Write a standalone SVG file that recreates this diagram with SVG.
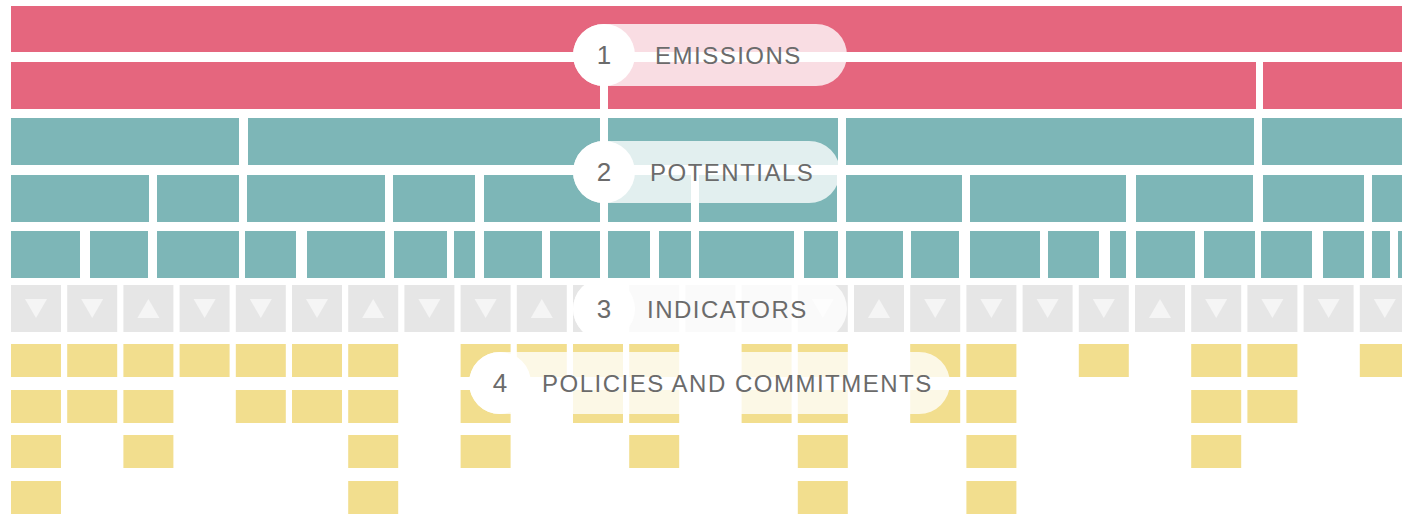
<svg xmlns="http://www.w3.org/2000/svg" xmlns:xlink="http://www.w3.org/1999/xlink" width="1402" height="514" viewBox="0 0 1402 514">
<style>
.em{fill:#E5667E}
.po{fill:#7DB6B7}
.ind{fill:#E6E6E6}
.tri{fill:#F5F5F5}
.pol{fill:#F2DE8E}
.pill{fill:#FFFFFF;fill-opacity:0.78}
.dot{fill:#FFFFFF}
.lbl{font-family:"Liberation Sans",Arial,sans-serif;font-size:24px;fill:#6B6B6B;letter-spacing:1.5px}
.num{font-family:"Liberation Sans",Arial,sans-serif;font-size:26px;fill:#6B6B6B;text-anchor:middle}
.link{stroke:#FFFFFF;stroke-width:8;fill:none}
</style>
<defs>
<path id="dn" class="tri" d="M-11,-9 L11,-9 L0,10 Z"/>
<path id="up" class="tri" d="M-11,10 L11,10 L0,-9 Z"/>
</defs>
<rect width="1402" height="514" fill="#FFFFFF"/>

<g id="emissions">
<rect class="em" x="11" y="6" width="1400" height="46"/>
<rect class="em" x="11" y="62" width="1245" height="47"/>
<rect class="em" x="1263" y="62" width="148" height="47"/>
</g>

<g id="potentials">
<rect class="po" x="11" y="118" width="228" height="47"/>
<rect class="po" x="248" y="118" width="590" height="47"/>
<rect class="po" x="846" y="118" width="408" height="47"/>
<rect class="po" x="1262" y="118" width="150" height="47"/>

<rect class="po" x="11" y="175" width="138" height="47"/>
<rect class="po" x="157" y="175" width="82" height="47"/>
<rect class="po" x="247" y="175" width="138" height="47"/>
<rect class="po" x="393" y="175" width="82" height="47"/>
<rect class="po" x="484" y="175" width="207" height="47"/>
<rect class="po" x="699" y="175" width="138" height="47"/>
<rect class="po" x="846" y="175" width="116" height="47"/>
<rect class="po" x="970" y="175" width="156" height="47"/>
<rect class="po" x="1136" y="175" width="117" height="47"/>
<rect class="po" x="1263" y="175" width="101" height="47"/>
<rect class="po" x="1372" y="175" width="40" height="47"/>

<rect class="po" x="11" y="231" width="69" height="47"/>
<rect class="po" x="90" y="231" width="58" height="47"/>
<rect class="po" x="157" y="231" width="82" height="47"/>
<rect class="po" x="245" y="231" width="51" height="47"/>
<rect class="po" x="307" y="231" width="78" height="47"/>
<rect class="po" x="394" y="231" width="53" height="47"/>
<rect class="po" x="454" y="231" width="21" height="47"/>
<rect class="po" x="484" y="231" width="58" height="47"/>
<rect class="po" x="550" y="231" width="100" height="47"/>
<rect class="po" x="659" y="231" width="32" height="47"/>
<rect class="po" x="699" y="231" width="95" height="47"/>
<rect class="po" x="804" y="231" width="34" height="47"/>
<rect class="po" x="846" y="231" width="57" height="47"/>
<rect class="po" x="911" y="231" width="48" height="47"/>
<rect class="po" x="970" y="231" width="70" height="47"/>
<rect class="po" x="1048" y="231" width="51" height="47"/>
<rect class="po" x="1110" y="231" width="16" height="47"/>
<rect class="po" x="1136" y="231" width="59" height="47"/>
<rect class="po" x="1204" y="231" width="51" height="47"/>
<rect class="po" x="1261" y="231" width="51" height="47"/>
<rect class="po" x="1323" y="231" width="41" height="47"/>
<rect class="po" x="1372" y="231" width="18" height="47"/>
<rect class="po" x="1398" y="231" width="14" height="47"/>
</g>

<g id="indicators">
<rect class="ind" x="11" y="285" width="50" height="47"/><use xlink:href="#dn" x="36" y="308"/>
<rect class="ind" x="67.2" y="285" width="50" height="47"/><use xlink:href="#dn" x="92.2" y="308"/>
<rect class="ind" x="123.4" y="285" width="50" height="47"/><use xlink:href="#up" x="148.4" y="308"/>
<rect class="ind" x="179.6" y="285" width="50" height="47"/><use xlink:href="#dn" x="204.6" y="308"/>
<rect class="ind" x="235.8" y="285" width="50" height="47"/><use xlink:href="#dn" x="260.8" y="308"/>
<rect class="ind" x="292" y="285" width="50" height="47"/><use xlink:href="#dn" x="317" y="308"/>
<rect class="ind" x="348.2" y="285" width="50" height="47"/><use xlink:href="#up" x="373.2" y="308"/>
<rect class="ind" x="404.4" y="285" width="50" height="47"/><use xlink:href="#dn" x="429.4" y="308"/>
<rect class="ind" x="460.6" y="285" width="50" height="47"/><use xlink:href="#dn" x="485.6" y="308"/>
<rect class="ind" x="516.8" y="285" width="50" height="47"/><use xlink:href="#up" x="541.8" y="308"/>
<rect class="ind" x="573" y="285" width="50" height="47"/>
<rect class="ind" x="629.2" y="285" width="50" height="47"/>
<rect class="ind" x="685.4" y="285" width="50" height="47"/>
<rect class="ind" x="741.6" y="285" width="50" height="47"/>
<rect class="ind" x="797.8" y="285" width="50" height="47"/><use xlink:href="#dn" x="822.8" y="308"/>
<rect class="ind" x="854" y="285" width="50" height="47"/><use xlink:href="#up" x="879" y="308"/>
<rect class="ind" x="910.2" y="285" width="50" height="47"/><use xlink:href="#dn" x="935.2" y="308"/>
<rect class="ind" x="966.4" y="285" width="50" height="47"/><use xlink:href="#dn" x="991.4" y="308"/>
<rect class="ind" x="1022.6" y="285" width="50" height="47"/><use xlink:href="#dn" x="1047.6" y="308"/>
<rect class="ind" x="1078.8" y="285" width="50" height="47"/><use xlink:href="#dn" x="1103.8" y="308"/>
<rect class="ind" x="1135" y="285" width="50" height="47"/><use xlink:href="#up" x="1160" y="308"/>
<rect class="ind" x="1191.2" y="285" width="50" height="47"/><use xlink:href="#dn" x="1216.2" y="308"/>
<rect class="ind" x="1247.4" y="285" width="50" height="47"/><use xlink:href="#dn" x="1272.4" y="308"/>
<rect class="ind" x="1303.6" y="285" width="50" height="47"/><use xlink:href="#dn" x="1328.6" y="308"/>
<rect class="ind" x="1359.8" y="285" width="50" height="47"/><use xlink:href="#dn" x="1384.8" y="308"/>
</g>

<g id="policies">
<rect class="pol" x="11" y="344" width="50" height="33"/>
<rect class="pol" x="11" y="390" width="50" height="33"/>
<rect class="pol" x="11" y="435" width="50" height="33"/>
<rect class="pol" x="11" y="481" width="50" height="33"/>
<rect class="pol" x="67.2" y="344" width="50" height="33"/>
<rect class="pol" x="67.2" y="390" width="50" height="33"/>
<rect class="pol" x="123.4" y="344" width="50" height="33"/>
<rect class="pol" x="123.4" y="390" width="50" height="33"/>
<rect class="pol" x="123.4" y="435" width="50" height="33"/>
<rect class="pol" x="179.6" y="344" width="50" height="33"/>
<rect class="pol" x="235.8" y="344" width="50" height="33"/>
<rect class="pol" x="235.8" y="390" width="50" height="33"/>
<rect class="pol" x="292" y="344" width="50" height="33"/>
<rect class="pol" x="292" y="390" width="50" height="33"/>
<rect class="pol" x="348.2" y="344" width="50" height="33"/>
<rect class="pol" x="348.2" y="390" width="50" height="33"/>
<rect class="pol" x="348.2" y="435" width="50" height="33"/>
<rect class="pol" x="348.2" y="481" width="50" height="33"/>
<rect class="pol" x="460.6" y="344" width="50" height="33"/>
<rect class="pol" x="460.6" y="390" width="50" height="33"/>
<rect class="pol" x="460.6" y="435" width="50" height="33"/>
<rect class="pol" x="516.8" y="344" width="50" height="33"/>
<rect class="pol" x="573" y="344" width="50" height="33"/>
<rect class="pol" x="573" y="390" width="50" height="33"/>
<rect class="pol" x="629.2" y="344" width="50" height="33"/>
<rect class="pol" x="629.2" y="390" width="50" height="33"/>
<rect class="pol" x="629.2" y="435" width="50" height="33"/>
<rect class="pol" x="741.6" y="344" width="50" height="33"/>
<rect class="pol" x="741.6" y="390" width="50" height="33"/>
<rect class="pol" x="797.8" y="344" width="50" height="33"/>
<rect class="pol" x="797.8" y="390" width="50" height="33"/>
<rect class="pol" x="797.8" y="435" width="50" height="33"/>
<rect class="pol" x="797.8" y="481" width="50" height="33"/>
<rect class="pol" x="910.2" y="344" width="50" height="33"/>
<rect class="pol" x="910.2" y="390" width="50" height="33"/>
<rect class="pol" x="966.4" y="344" width="50" height="33"/>
<rect class="pol" x="966.4" y="390" width="50" height="33"/>
<rect class="pol" x="966.4" y="435" width="50" height="33"/>
<rect class="pol" x="966.4" y="481" width="50" height="33"/>
<rect class="pol" x="1078.8" y="344" width="50" height="33"/>
<rect class="pol" x="1191.2" y="344" width="50" height="33"/>
<rect class="pol" x="1191.2" y="390" width="50" height="33"/>
<rect class="pol" x="1191.2" y="435" width="50" height="33"/>
<rect class="pol" x="1247.4" y="344" width="50" height="33"/>
<rect class="pol" x="1247.4" y="390" width="50" height="33"/>
<rect class="pol" x="1359.8" y="344" width="50" height="33"/>
</g>

<g id="connectors">
<line class="link" x1="604" y1="55" x2="604" y2="309"/>
</g>

<g id="label-emissions">
<rect class="pill" x="573" y="24" width="274" height="62" rx="31"/>
<circle class="dot" cx="604" cy="55" r="31"/>
<text class="num" x="604" y="64">1</text>
<text class="lbl" x="655" y="64">EMISSIONS</text>
</g>
<g id="label-potentials">
<rect class="pill" x="573" y="141" width="267" height="62" rx="31"/>
<circle class="dot" cx="604" cy="172" r="31"/>
<text class="num" x="604" y="181">2</text>
<text class="lbl" x="650" y="181">POTENTIALS</text>
</g>
<g id="label-indicators">
<rect class="pill" x="573" y="278" width="274" height="62" rx="31"/>
<circle class="dot" cx="604" cy="309" r="31"/>
<text class="num" x="604" y="318">3</text>
<text class="lbl" x="647" y="318">INDICATORS</text>
</g>
<g id="label-policies">
<rect class="pill" x="469" y="352" width="481" height="62" rx="31"/>
<circle class="dot" cx="500" cy="383" r="31"/>
<text class="num" x="500" y="392">4</text>
<text class="lbl" x="542" y="392">POLICIES AND COMMITMENTS</text>
</g>
</svg>
